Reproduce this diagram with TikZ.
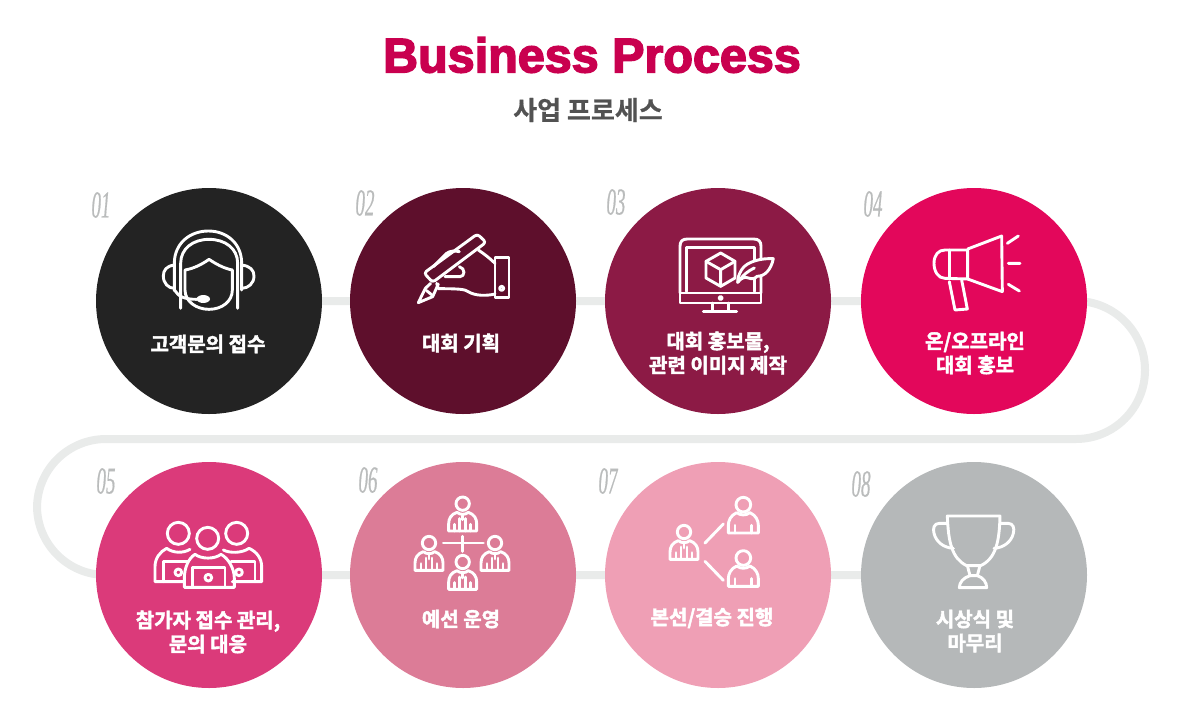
\documentclass[tikz,border=0pt]{standalone}
\usepackage{xcolor}
\usepackage{fontspec}
\usetikzlibrary{backgrounds}
\setmainfont{Liberation Sans}
\newfontfamily\titlefont[FakeBold=3.2]{Liberation Sans Bold}
\newfontfamily\korfont[BoldFont=*,BoldFeatures={FakeBold=2.2}]{Noto Sans CJK KR Bold}
\newfontfamily\subfont[FakeBold=0.6]{Noto Sans CJK KR Bold}
\newfontfamily\numfont[FakeStretch=0.5,FakeBold=0.4]{Liberation Serif Italic}
\definecolor{titlered}{RGB}{201,0,79}
\definecolor{tracegray}{RGB}{233,235,234}
\definecolor{numgray}{RGB}{186,188,188}
\definecolor{stepa}{RGB}{35,35,35}
\definecolor{stepb}{RGB}{94,15,44}
\definecolor{stepc}{RGB}{140,26,69}
\definecolor{stepd}{RGB}{227,7,91}
\definecolor{stepe}{RGB}{219,58,122}
\definecolor{stepf}{RGB}{220,124,151}
\definecolor{stepg}{RGB}{239,159,181}
\definecolor{steph}{RGB}{181,184,185}

% person with shirt and tie, head centre at (#1,#2)
\newcommand{\tieperson}[2]{%
  \begin{scope}[shift={(#1,#2)}]
    \draw[icon] (0,0) circle (20);
    \draw[icon] (-17,26) .. controls (-35,32) and (-42,45) .. (-42,60) -- (-42,82) -- (42,82) -- (42,60) .. controls (42,45) and (35,32) .. (17,26) .. controls (8,34) and (-8,34) .. (-17,26);
    \draw[icon] (-24,62) -- (-24,82) (24,62) -- (24,82) (-9,45) -- (-9,82) (9,45) -- (9,82) (0,36) -- (0,48);
  \end{scope}}
% plain person, head centre at (#1,#2)
\newcommand{\plainperson}[2]{%
  \begin{scope}[shift={(#1,#2)}]
    \draw[icon] (0,0) circle (22);
    \draw[icon] (-20,24) .. controls (-38,32) and (-45,48) .. (-45,62) -- (-45,85) -- (45,85) -- (45,62) .. controls (45,48) and (38,32) .. (20,24) .. controls (8,33) and (-8,33) .. (-20,24);
    \draw[icon] (-25,62) -- (-25,85) (25,62) -- (25,85);
  \end{scope}}

\begin{document}
\begin{tikzpicture}[
  x=1pt, y=-1pt,
  stepnode/.style={circle, minimum size=226pt, inner sep=0pt},
  steptext/.style={text=white, align=center, inner sep=0pt, font=\korfont\bfseries\fontsize{20}{24}\selectfont},
  stepnum/.style={text=numgray, inner sep=0pt, font=\numfont\fontsize{38}{38}\selectfont},
  trace/.style={draw=tracegray, line width=8pt, rounded corners=69pt},
  icon/.style={draw=white, line width=2.9pt, line cap=round, line join=round},
]
  \useasboundingbox (0,0) rectangle (1193,726);

  \node[text=titlered, inner sep=0pt, font=\titlefont\fontsize{48.5}{50}\selectfont] (title) at (592,55) {Business Process};
  \node[text=black!68, inner sep=0pt, font=\subfont\fontsize{26}{26}\selectfont] (subtitle) at (588,110) {사업 프로세스};

  \node[stepnode, fill=stepa] (s1) at (209,301) {};
  \node[stepnode, fill=stepb] (s2) at (463,301) {};
  \node[stepnode, fill=stepc] (s3) at (718,301) {};
  \node[stepnode, fill=stepd] (s4) at (974,301) {};
  \node[stepnode, fill=stepe] (s5) at (209,575) {};
  \node[stepnode, fill=stepf] (s6) at (463,575) {};
  \node[stepnode, fill=stepg] (s7) at (718,575) {};
  \node[stepnode, fill=steph] (s8) at (974,575) {};

  \coordinate (ra) at (1145,301);
  \coordinate (rb) at (1145,439);
  \coordinate (la) at (37,439);
  \coordinate (lb) at (37,575);
  \begin{scope}[on background layer]
    \draw[trace] (s1.center) -- (ra) -- (rb) -- (la) -- (lb) -- (s8.center);
  \end{scope}

  \node[stepnum] (n1) at (101,205) {01};
  \node[stepnum] (n2) at (365,203) {02};
  \node[stepnum] (n3) at (616,202) {03};
  \node[stepnum] (n4) at (873,204) {04};
  \node[stepnum] (n5) at (106,481) {05};
  \node[stepnum] (n6) at (368,480) {06};
  \node[stepnum] (n7) at (608,481) {07};
  \node[stepnum] (n8) at (861,484) {08};

  \node[steptext] (t1) at (208,344) {고객문의 접수};
  \node[steptext] (t2) at (461,343) {대회 기획};
  \node[steptext] (t3) at (718,353) {대회 홍보물,\\관련 이미지 제작};
  \node[steptext] (t4) at (975,353) {온/오프라인\\대회 홍보};
  \node[steptext] (t5) at (208,632) {참가자 접수 관리,\\문의 대응};
  \node[steptext] (t6) at (461,619) {예선 운영};
  \node[steptext] (t7) at (712,618) {본선/결승 진행};
  \node[steptext] (t8) at (975,631) {시상식 및\\마무리};

  % headset
  \begin{scope}[shift={(140,220)}, scale=1/3]
    \draw[icon] (103,212) -- (103,130) .. controls (103,70) and (150,33) .. (205,33) .. controls (260,33) and (305,70) .. (305,130) -- (305,210);
    \draw[icon] (122,265) -- (122,130) .. controls (122,85) and (160,58) .. (207,58) .. controls (255,58) and (293,85) .. (293,130) -- (293,265);
    \draw[icon] (135,150) .. controls (165,145) and (190,130) .. (207,118) .. controls (225,130) and (250,145) .. (277,150) -- (277,210) .. controls (277,245) and (245,268) .. (207,268) .. controls (170,268) and (135,245) .. (135,210) -- cycle;
    \draw[icon] (103,135) .. controls (80,138) and (70,150) .. (70,168) .. controls (70,190) and (85,205) .. (103,205);
    \draw[icon] (305,135) .. controls (330,138) and (342,150) .. (342,168) .. controls (342,190) and (325,205) .. (305,205);
    \draw[icon] (105,212) .. controls (115,230) and (135,238) .. (170,238);
    \fill[white] (190,237) ellipse (20 and 12);
  \end{scope}

  % hand with pen
  \begin{scope}[shift={(400,220)}, scale=1/3]
    \draw[icon, rounded corners=3pt] (232,42) -- (258,67) -- (98,187) -- (72,159) -- cycle;
    \draw[icon] (76,205) -- (55,248) -- (98,230) -- (115,192);
    \draw[icon] (76,205) -- (92,190) (80,212) -- (97,226);
    \draw[icon] (100,140) -- (140,100) .. controls (150,92) and (165,92) .. (178,95);
    \draw[icon] (235,90) .. controls (250,100) and (270,115) .. (285,130);
    \draw[icon] (285,222) .. controls (260,228) and (225,228) .. (205,215) .. controls (195,208) and (180,206) .. (115,206) -- (110,190);
    \draw[icon] (135,170) -- (180,170) .. controls (195,170) and (197,145) .. (178,140);
    \draw[icon] (285,112) rectangle (327,232);
    \draw[icon] (305,205) circle (6);
  \end{scope}

  % monitor with cube and feather
  \begin{scope}[shift={(665,228)}, scale=1/3]
    \draw[icon] (45,195) -- (45,55) .. controls (45,40) and (52,33) .. (67,33) -- (266,33) .. controls (281,33) and (288,40) .. (288,55) -- (288,195);
    \draw[icon] (65,190) -- (65,58) -- (268,58) -- (268,190);
    \draw[icon] (45,195) rectangle (288,225);
    \draw[icon] (167,210) circle (5);
    \draw[icon] (143,225) -- (143,250) (190,225) -- (190,250) (115,250) -- (215,250);
    \draw[icon] (167,75) -- (210,100) -- (210,150) -- (167,175) -- (123,150) -- (123,100) -- cycle;
    \draw[icon] (123,100) -- (167,125) -- (210,100) (167,125) -- (167,175);
    \draw[icon, fill=stepc] (325,92) .. controls (290,90) and (245,100) .. (230,125) .. controls (222,138) and (218,150) .. (218,163) .. controls (228,150) and (240,145) .. (250,150) .. controls (262,155) and (272,150) .. (276,145) .. controls (300,145) and (318,125) .. (325,92) -- cycle;
    \draw[icon] (218,163) .. controls (235,140) and (250,128) .. (268,120);
  \end{scope}

  % megaphone
  \begin{scope}[shift={(920,225)}, scale=1/3]
    \draw[icon] (143,75) -- (75,75) .. controls (55,75) and (42,90) .. (42,115) .. controls (42,140) and (55,160) .. (75,160) -- (143,162) -- cycle;
    \draw[icon] (88,75) -- (88,160);
    \draw[icon] (143,72) -- (245,33) -- (247,200) -- (143,162);
    \draw[icon] (88,170) -- (105,255) -- (142,252) -- (125,165);
    \draw[icon] (262,55) -- (295,33) (265,115) -- (300,115) (265,178) -- (298,198);
  \end{scope}

  % three people with laptops
  \begin{scope}[shift={(145,510)}, scale=1/3]
    \draw[icon] (100,70) circle (33) (275,70) circle (33) (188,85) circle (33);
    \draw[icon] (118,215) -- (30,215) -- (30,170) .. controls (30,145) and (45,125) .. (65,115) .. controls (85,130) and (115,130) .. (135,118);
    \draw[icon] (262,215) -- (350,215) -- (350,170) .. controls (350,145) and (335,125) .. (312,115) .. controls (290,130) and (255,130) .. (235,120);
    \draw[icon] (55,215) -- (55,155) -- (130,155) (330,215) -- (330,155) -- (258,155);
    \draw[icon] (100,187) circle (10) (282,187) circle (10);
    \draw[icon] (150,133) .. controls (170,148) and (208,148) .. (228,133) .. controls (250,145) and (268,175) .. (268,205) -- (268,232) -- (118,232) -- (118,205) .. controls (118,175) and (130,145) .. (150,133) -- cycle;
    \draw[icon] (143,232) -- (143,172) -- (240,172) -- (240,232);
    \draw[icon] (190,203) circle (10);
  \end{scope}

  % four people around a cross
  \begin{scope}[shift={(405,488)}, scale=1/3]
    \tieperson{173}{47}
    \tieperson{72}{165}
    \tieperson{270}{165}
    \tieperson{173}{222}
    \draw[icon] (115,165) -- (235,165) (173,145) -- (173,190);
  \end{scope}

  % one person and two players
  \begin{scope}[shift={(660,488)}, scale=1/3]
    \tieperson{72}{132}
    \plainperson{250}{50}
    \plainperson{250}{210}
    \draw[icon] (135,165) -- (190,108) (135,220) -- (190,277);
  \end{scope}

  % trophy
  \begin{scope}[shift={(920,505)}, scale=1/3]
    \draw[icon] (82,33) -- (240,33) .. controls (238,110) and (228,160) .. (182,182) -- (140,182) .. controls (95,160) and (85,110) .. (82,33) -- cycle;
    \draw[icon] (82,55) -- (58,55) .. controls (42,55) and (38,70) .. (42,85) .. controls (48,110) and (70,128) .. (100,130);
    \draw[icon] (240,55) -- (264,55) .. controls (280,55) and (284,70) .. (280,85) .. controls (274,110) and (252,128) .. (222,130);
    \draw[icon] (143,185) -- (150,212) -- (172,212) -- (179,185);
    \draw[icon] (150,212) .. controls (130,218) and (118,232) .. (118,248) -- (200,248) .. controls (200,232) and (190,218) .. (172,212);
  \end{scope}
\end{tikzpicture}
\end{document}
